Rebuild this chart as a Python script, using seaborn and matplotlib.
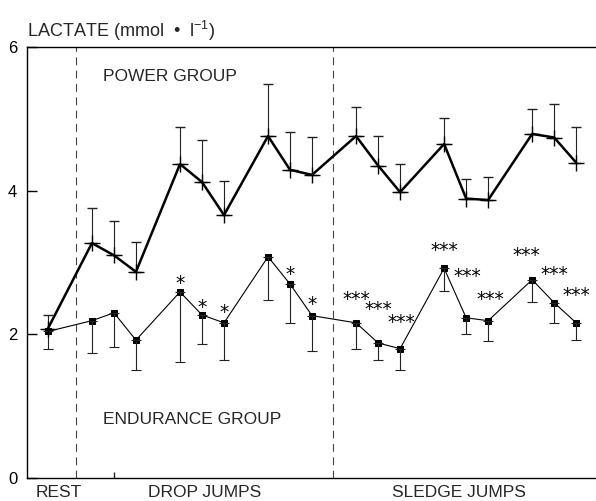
import matplotlib
matplotlib.use("Agg")
import matplotlib.pyplot as plt
import seaborn as sns
import pandas as pd
import numpy as np

# ---- data ----
stages = ["REST"] + [f"DJ{s}-{j}" for s in range(1, 4) for j in range(1, 4)] + \
         [f"SJ{s}-{j}" for s in range(1, 4) for j in range(1, 4)]
power_mean = [2.08, 3.27, 3.10, 2.87, 4.37, 4.12, 3.66, 4.76, 4.29, 4.22,
              4.76, 4.35, 3.98, 4.65, 3.89, 3.87, 4.79, 4.74, 4.39]
power_upper = [2.27, 3.76, 3.58, 3.29, 4.89, 4.70, 4.14, 5.49, 4.82, 4.75,
               5.17, 4.76, 4.37, 5.01, 4.16, 4.19, 5.14, 5.21, 4.89]
endur_mean = [2.04, 2.19, 2.30, 1.92, 2.59, 2.27, 2.16, 3.08, 2.70, 2.26,
              2.16, 1.88, 1.80, 2.92, 2.23, 2.19, 2.76, 2.44, 2.16]
endur_lower = [1.80, 1.74, 1.83, 1.51, 1.61, 1.87, 1.64, 2.48, 2.16, 1.77,
               1.80, 1.64, 1.50, 2.60, 2.01, 1.91, 2.45, 2.16, 1.92]
endur_sig = ["", "", "", "", "*", "*", "*", "", "*", "*",
             "***", "***", "***", "***", "***", "***", "***", "***", "***"]
phase_labels = ["REST", "DROP JUMPS", "SLEDGE JUMPS"]
y_ticks = [0, 2, 4, 6]

# x position: rest, then 6 series of 3 jumps with a gap between series
xpos = [-2] + [4 * s + j for s in range(6) for j in range(3)]

df = pd.DataFrame({"x": xpos, "stage": stages,
                   "power": power_mean, "power_up": power_upper,
                   "endur": endur_mean, "endur_lo": endur_lower,
                   "sig": endur_sig})

# layout only: pixel offsets of the significance marks (dx, dy above the point)
star_offsets = {4: (0, 3), 5: (0, 2), 6: (0, 5), 8: (0, 4), 9: (0, 6),
                10: (0, 18), 11: (0, 28), 12: (1, 21),
                13: (0, 12), 14: (1, 36), 15: (2, 16),
                16: (-6, 19), 17: (0, 23), 18: (0, 22)}

sns.set_style("ticks")
plt.rcParams["font.family"] = ["Liberation Sans", "DejaVu Sans"]
plt.rcParams["mathtext.fontset"] = "custom"
plt.rcParams["mathtext.rm"] = "Liberation Sans"
plt.rcParams["mathtext.it"] = "Liberation Sans"

W, H = 596, 501
fig = plt.figure(figsize=(W / 100, H / 100), dpi=100)
ax = fig.add_axes([27 / W, 23 / H, (W - 27) / W, (478 - 47) / H])

# lines
sns.lineplot(data=df, x="x", y="power", ax=ax, color="black", lw=1.8,
             sort=False, estimator=None, legend=False)
sns.lineplot(data=df, x="x", y="endur", ax=ax, color="black", lw=0.8,
             marker="s", markersize=4, markeredgecolor="black",
             sort=False, estimator=None, legend=False)

# error bars (power: upward, endurance: downward)
p = df["power"].to_numpy()
e = df["endur"].to_numpy()
ax.errorbar(df["x"], p, yerr=[np.zeros(len(p)), df["power_up"].to_numpy() - p],
            fmt="+", color="black", ecolor="#222222", elinewidth=0.8,
            capsize=3.5, capthick=0.8, markersize=11, markeredgewidth=1.0, zorder=3)
ax.errorbar(df["x"], e, yerr=[e - df["endur_lo"].to_numpy(), np.zeros(len(e))],
            fmt="none", ecolor="#222222", elinewidth=0.8,
            capsize=3.5, capthick=0.8, zorder=2)

# significance stars
for i, (xv, yv, s) in enumerate(zip(df["x"], e, df["sig"])):
    if not s:
        continue
    dx, dy = star_offsets.get(i, (0, 10))
    ax.annotate(s, (xv, yv), xytext=(dx, dy), textcoords="offset pixels",
                ha="center", va="baseline", fontsize=13.5, color="black",
                family="DejaVu Sans")

# phase separators
for xv in (-0.73, 10.95):
    ax.axvline(xv, color="#444444", lw=0.8, ls=(0, (7, 5)), zorder=1)

# group labels
ax.text(0.5, 5.53, "POWER GROUP", fontsize=12.5, ha="left", va="baseline")
ax.text(0.5, 0.75, "ENDURANCE GROUP", fontsize=12.5, ha="left", va="baseline")

# phase labels under axis
for xv, lab in zip((-2.55, 2.55, 13.64), phase_labels):
    ax.text(xv, -0.27, lab, fontsize=12.5, ha="left", va="baseline", clip_on=False)

fig.text(27 / W, 1 - 37 / H, r"LACTATE (mmol  •  l$^{-1}$)", fontsize=13,
         ha="left", va="baseline")

ax.set_xlim(-2.95, 22.9)
ax.set_ylim(0, 6)
ax.set_yticks(y_ticks)
ax.set_yticklabels([str(t) for t in y_ticks], fontsize=12)
ax.set_xticks([])
ax.set_xticks([1], minor=True)
ax.tick_params(axis="y", direction="in", length=7, width=1, pad=7, colors="black")
ax.tick_params(axis="x", which="minor", direction="in", length=4, width=1)
ax.set_xlabel("")
ax.set_ylabel("")
for side in ("left", "bottom", "top"):
    ax.spines[side].set_color("black")
    ax.spines[side].set_linewidth(1.0)
ax.spines["right"].set_visible(False)

fig.savefig("out.png", dpi=100)
